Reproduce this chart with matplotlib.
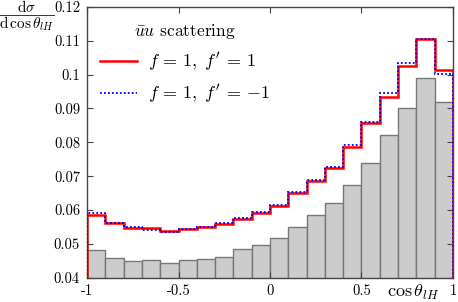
import numpy as np
import matplotlib
matplotlib.use("Agg")
import matplotlib.pyplot as plt
from matplotlib.lines import Line2D

plt.rcParams['font.family'] = 'serif'
plt.rcParams['font.serif'] = ['cmr10', 'DejaVu Serif']
plt.rcParams['mathtext.fontset'] = 'cm'
plt.rcParams['axes.unicode_minus'] = False

bin_edges = np.round(np.linspace(-1, 1, 21), 2)
sm_values = [0.0483, 0.0459, 0.0450, 0.0453, 0.0444, 0.0452, 0.0456, 0.0461, 0.0484, 0.0497,
             0.0518, 0.0550, 0.0586, 0.0621, 0.0673, 0.0739, 0.0822, 0.0902, 0.0989, 0.0920]
f1_fp1 = [0.0586, 0.0561, 0.0548, 0.0547, 0.0539, 0.0545, 0.0550, 0.0560, 0.0573, 0.0591,
          0.0612, 0.0650, 0.0685, 0.0723, 0.0786, 0.0857, 0.0934, 0.1025, 0.1105, 0.1015]
f1_fpm1 = [0.0590, 0.0563, 0.0550, 0.0542, 0.0536, 0.0545, 0.0551, 0.0563, 0.0576, 0.0594,
           0.0615, 0.0653, 0.0688, 0.0726, 0.0792, 0.0860, 0.0946, 0.1033, 0.1105, 0.1001]
x_ticks = [-1, -0.5, 0, 0.5, 1]
x_tick_labels = ['-1', '-0.5', '0', '0.5', '1']
y_ticks = [0.04, 0.05, 0.06, 0.07, 0.08, 0.09, 0.1, 0.11, 0.12]
y_tick_labels = ['0.04', '0.05', '0.06', '0.07', '0.08', '0.09', '0.1', '0.11', '0.12']

fig = plt.figure(figsize=(4.58, 3.02), dpi=100)
ax = fig.add_axes([0.19, 0.0805, 0.799, 0.8965])

ax.bar(bin_edges[:-1], sm_values, width=0.1, align='edge', color='#cccccc',
       edgecolor='#777777', linewidth=1.0, zorder=1)
ax.stairs(f1_fp1, bin_edges, color='#ff0000', linewidth=1.8,
          label=r"$f\,=\,1,\ f'\,=\,1$", zorder=2)
ax.stairs(f1_fpm1, bin_edges, color='#0000ff', linewidth=1.3, linestyle=(0, (1, 1.2)),
          label=r"$f\,=\,1,\ f'\,=\,{-1}$", zorder=3)

ax.set_xlim(-1, 1)
ax.set_ylim(0.04, 0.12)
ax.set_xticks(x_ticks)
ax.set_xticklabels(x_tick_labels)
ax.set_yticks(y_ticks)
ax.set_yticklabels(y_tick_labels)
ax.tick_params(direction='in', top=True, right=True, length=4, width=0.8,
               labelsize=10.5, color='#444444', pad=5)
for s in ax.spines.values():
    s.set_color('#444444')
    s.set_linewidth(1.0)

leg = ax.legend(loc='upper left', bbox_to_anchor=(-0.01, 1.005), frameon=False,
                title=r"$\bar{u}u$ scattering", fontsize=13, title_fontsize=12.5,
                handlelength=2.05, handletextpad=0.65, labelspacing=0.5)
leg._legend_box.sep = 7

# y-axis label as a fraction drawn with two texts and a bar
fig.text(0.058, 1 - 6.5 / 302, r"$\mathrm{d}\sigma$", fontsize=11, ha='center', va='center')
fig.add_artist(Line2D([0.0, 0.118], [1 - 14.7 / 302, 1 - 14.7 / 302],
                      transform=fig.transFigure, color='#333333', linewidth=0.7))
fig.text(0.058, 1 - 23.5 / 302, r"$\mathrm{d}\,\cos\theta_{lH}$", fontsize=11,
         ha='center', va='center')
fig.text(0.902, 0.032, r"$\cos\theta_{lH}$", fontsize=13, ha='center', va='center')

fig.savefig('out.png', dpi=100)
